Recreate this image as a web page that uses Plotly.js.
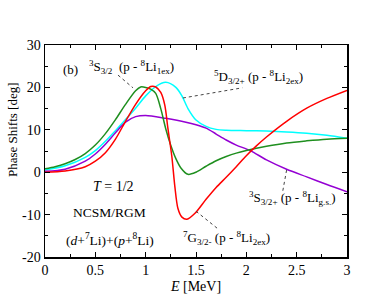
<!DOCTYPE html>
<html>
<head>
<meta charset="utf-8">
<script src="https://cdn.plot.ly/plotly-3.0.1.min.js"></script>
<style>html,body{margin:0;padding:0;background:#fff;}#chart{width:391px;height:302px;}</style>
</head>
<body>
<div id="chart"></div>
<script>
// Phase shifts [deg] vs E [MeV]
const greenE = [0, 0.1, 0.2, 0.3, 0.4, 0.5, 0.6, 0.7, 0.8, 0.9, 0.95, 1.0, 1.05, 1.1, 1.15, 1.2, 1.25, 1.3, 1.35, 1.42, 1.5, 1.6, 1.7, 1.8, 1.9, 2.0, 2.2, 2.4, 2.6, 2.8, 3.0];
const greenD = [0.8, 1.3, 2.0, 3.0, 4.4, 6.4, 9.1, 12.4, 16.0, 19.2, 20.1, 20.0, 19.6, 18.6, 15.0, 10.2, 6.3, 3.2, 1.0, -0.5, 0.0, 1.4, 2.7, 3.7, 4.5, 5.1, 6.1, 6.9, 7.4, 7.8, 8.0];

const cyanE = [0, 0.2, 0.4, 0.5, 0.6, 0.7, 0.8, 0.9, 1.0, 1.1, 1.2, 1.3, 1.36, 1.42, 1.5, 1.6, 1.7, 1.8, 2.0, 2.2, 2.4, 2.6, 2.8, 3.0];
const cyanD = [0.5, 1.5, 3.5, 5.1, 7.3, 9.8, 12.4, 15.1, 18.0, 20.2, 21.2, 20.0, 18.0, 15.0, 12.3, 10.8, 10.1, 9.9, 9.8, 9.7, 9.5, 9.2, 8.7, 8.0];

const purpleE = [0, 0.2, 0.4, 0.5, 0.6, 0.7, 0.8, 0.9, 1.0, 1.2, 1.4, 1.5, 1.6, 1.7, 1.8, 1.9, 2.04, 2.2, 2.4, 2.6, 2.8, 3.0];
const purpleD = [0.2, 0.7, 2.6, 4.3, 6.6, 9.3, 11.8, 13.1, 13.4, 12.7, 11.8, 11.2, 10.4, 9.0, 7.6, 6.4, 5.1, 2.9, 0.7, -1.1, -2.9, -4.6];

const redE = [0, 0.2, 0.4, 0.5, 0.6, 0.7, 0.8, 0.9, 1.0, 1.05, 1.1, 1.15, 1.19, 1.22, 1.26, 1.29, 1.32, 1.36, 1.41, 1.49, 1.6, 1.7, 1.8, 1.9, 2.0, 2.1, 2.2, 2.4, 2.6, 2.8, 3.0];
const redD = [0, 0.3, 1.3, 2.6, 4.6, 7.8, 12.0, 16.0, 19.2, 20.2, 20.1, 18.8, 15.8, 10.5, 3.7, -3.4, -8.5, -10.6, -11.1, -9.7, -6.4, -3.6, -1.2, 1.3, 3.9, 6.2, 8.3, 12.0, 15.1, 17.4, 19.3];

const xTicks = [0, 0.5, 1, 1.5, 2, 2.5, 3];
const xTickText = ['0', '0.5', '1', '1.5', '2', '2.5', '3'];
const yTicks = [-20, -10, 0, 10, 20, 30];
const yTickText = ['-20', '-10', '0', '10', '20', '30'];

const FONT = '"Liberation Serif", "Times New Roman", Times, serif';

function line(x, y, color) {
  return {x: x, y: y, mode: 'lines', type: 'scatter',
          line: {color: color, width: 1.5, shape: 'spline', smoothing: 0.8},
          hoverinfo: 'skip', showlegend: false};
}

const traces = [
  line(cyanE, cyanD, '#00ffff'),
  line(purpleE, purpleD, '#9400d3'),
  line(greenE, greenD, '#1f8f1f'),
  line(redE, redD, '#ff0000')
];

function dotted(x0, y0, x1, y1) {
  return {type: 'line', xref: 'x', yref: 'y', x0: x0, y0: y0, x1: x1, y1: y1,
          line: {color: '#444', width: 1, dash: 'dot'}};
}

function label(x, y, text, size) {
  return {x: x, y: y, xref: 'x', yref: 'y', text: text, showarrow: false,
          font: {family: FONT, size: size || 13, color: '#000'}};
}

const layout = {
  width: 391, height: 302,
  margin: {l: 45, r: 44, t: 45, b: 45},
  paper_bgcolor: '#fff', plot_bgcolor: '#fff',
  font: {family: FONT, size: 14, color: '#000'},
  xaxis: {
    range: [0, 3], tickvals: xTicks, ticktext: xTickText,
    ticks: 'inside', ticklen: 5, tickwidth: 1, tickcolor: '#000',
    minor: {dtick: 0.25, ticks: 'inside', ticklen: 3, tickcolor: '#000', showgrid: false},
    showline: true, linecolor: '#000', linewidth: 1.5, mirror: 'ticks',
    showgrid: false, zeroline: false,
    tickfont: {family: FONT, size: 14, color: '#000'},
    title: {text: '<i>E</i> [MeV]', font: {family: FONT, size: 14, color: '#000'}, standoff: 4}
  },
  yaxis: {
    range: [-20, 30], tickvals: yTicks, ticktext: yTickText,
    ticks: 'inside', ticklen: 5, tickwidth: 1, tickcolor: '#000',
    minor: {dtick: 5, ticks: 'inside', ticklen: 3, tickcolor: '#000', showgrid: false},
    showline: true, linecolor: '#000', linewidth: 1.5, mirror: 'ticks',
    showgrid: false, zeroline: false,
    tickfont: {family: FONT, size: 14, color: '#000'}
  },
  shapes: [
    dotted(0.725, 22.9, 0.874, 19.9),
    dotted(1.37, 17.5, 1.96, 19.9),
    dotted(2.40, 0.5, 2.36, -4.7),
    dotted(1.50, -9.2, 1.72, -13.4)
  ],
  annotations: [
    {xref: 'paper', yref: 'paper', x: -0.105, y: 0.6, xanchor: 'center', yanchor: 'middle',
     text: 'Phase Shifts [deg]', textangle: -90, showarrow: false,
     font: {family: FONT, size: 13, color: '#000'}},
    label(0.25, 24.3, '(b)', 13),
    label(0.86, 24.7, '<sup>3</sup>S<sub>3/2</sub>  (p - <sup>8</sup>Li<sub>1ex</sub>)', 13),
    label(2.12, 22.4, '<sup>5</sup>D<sub>3/2+</sub> (p - <sup>8</sup>Li<sub>2ex</sub>)', 13),
    label(2.46, -6.2, '<sup>3</sup>S<sub>3/2+</sub> (p - <sup>8</sup>Li<sub>g.s.</sub>)', 13),
    label(1.80, -15.6, '<sup>7</sup>G<sub>3/2-</sub> (p - <sup>8</sup>Li<sub>2ex</sub>)', 13),
    label(0.68, -3.3, '<i>T</i> = 1/2', 14),
    label(0.64, -9.4, 'NCSM/RGM', 13.5),
    label(0.65, -15.8, '(<i>d</i>+<sup>7</sup>Li)+(<i>p</i>+<sup>8</sup>Li)', 13.5)
  ]
};

Plotly.newPlot('chart', traces, layout, {displayModeBar: false, staticPlot: true});
</script>
</body>
</html>
